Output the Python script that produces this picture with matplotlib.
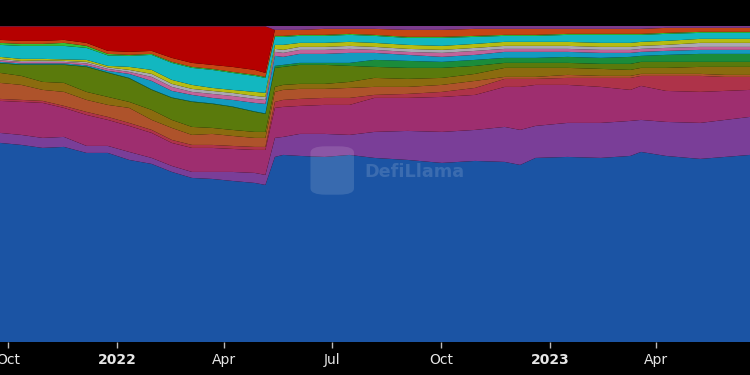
"""Stacked share chart (DefiLlama style), dark theme."""

import pandas as pd
import matplotlib
matplotlib.use("Agg")
import matplotlib.pyplot as plt
import matplotlib.dates as mdates
from matplotlib.patches import FancyBboxPatch

# dates of the samples
dates = ["2021-09-24", "2021-10-12", "2021-10-30", "2021-11-17", "2021-12-06",
         "2021-12-24", "2022-01-11", "2022-01-30", "2022-02-16", "2022-03-05",
         "2022-03-22", "2022-04-08", "2022-04-27", "2022-05-06", "2022-05-14",
         "2022-05-21", "2022-06-04", "2022-06-25", "2022-07-16", "2022-08-06",
         "2022-09-03", "2022-10-02", "2022-10-30", "2022-11-24", "2022-12-07",
         "2022-12-20", "2023-01-16", "2023-02-13", "2023-03-10", "2023-03-19",
         "2023-04-09", "2023-05-08", "2023-05-29", "2023-06-19"]

# relative shares (bottom to top), normalised to 100% below
blue = [199, 197, 194, 195, 189, 189, 182, 178, 170, 164, 163, 161, 159, 157,
        185, 187, 186, 185, 187, 184, 182, 179, 181, 180, 177, 184, 185, 184,
        186, 190, 186, 183, 185, 187]
purple = [10, 10, 10, 10, 7, 7, 8, 6, 6, 6, 7, 9, 10, 10,
          19, 18, 22, 23, 20, 26, 29, 31, 31, 35, 35, 32, 34, 35, 35, 32, 34, 36, 37, 38]
magenta = [32, 33, 35, 29, 31, 26, 26, 25, 23, 24, 24, 23, 23, 25,
           30, 30, 28, 29, 30, 34, 33, 35, 35, 40, 43, 41, 38, 36, 31, 34, 31, 31, 29, 27]
crimson = [2, 2, 2, 2, 3, 3, 3, 3, 3, 3, 3, 3, 3, 3,
           6, 7, 7, 7, 7, 3, 4, 5, 7, 8, 8, 6, 7, 9, 12, 10, 15, 16, 14, 13]
orange_brown = [16, 15, 11, 14, 12, 12, 15, 10, 12, 10, 11, 10, 9, 9,
                10, 10, 10, 9, 10, 8, 7, 7, 7, 2, 2, 2, 3, 2, 2, 2, 2, 2, 2, 2]
olive_brown = [10, 9, 8, 9, 8, 8, 6, 10, 8, 8, 6, 6, 6, 6,
               5, 5, 5, 5, 6, 9, 8, 7, 7, 9, 9, 9, 7, 7, 6, 6, 6, 7, 8, 8]
olive_green = [9.5, 11, 17, 18, 25, 24, 23.5, 20, 22, 25, 24, 23, 20, 18,
               19, 18, 19, 19, 16, 11, 11, 10, 8, 5, 5, 5, 5, 5, 6, 6, 6, 5, 5, 5]
green = [0.5, 0.5, 0.5, 0.5, 0.5, 0.5, 0.5, 0.5, 0.5, 0.5, 0.5, 0.5, 0.5, 0.5,
         2, 2, 2, 2, 3, 7, 7, 6, 6, 5, 5, 5, 6, 6, 7, 6, 7, 8, 8, 8]
blue_cyan = [1, 1, 1, 1, 1, 1.5, 4, 8.5, 6.5, 6.5, 5.5, 6.5, 8.5, 9.5,
             10, 8, 9, 9, 10, 7, 6, 5, 5, 6, 6, 6, 5, 5, 4, 4, 4, 4, 4, 4]
pink = [1.5, 1.5, 1.5, 1.5, 2, 2, 2, 4, 4, 3, 4, 4, 4, 4,
        4, 4, 4, 4, 4, 3, 3, 4, 4, 3, 3, 3, 3, 3, 3, 3, 3, 3, 3, 3]
gray = [1.5, 1, 1.5, 1, 1.5, 1.5, 2, 3, 3, 3, 3, 3, 3, 3,
        3, 3, 3, 3, 3, 3, 3, 3, 3, 3, 3, 3, 3, 3, 3, 3, 3, 4, 4, 4]
yellow = [2, 2, 1.5, 1.5, 2, 1.5, 3, 4, 4, 4, 3, 3, 4, 4,
          4, 5, 4, 4, 4, 4, 4, 4, 4, 4, 4, 4, 4, 4, 4, 4, 4, 4, 4, 4]
cyan = [12, 13, 13, 13.5, 12, 10.5, 11, 15, 17, 17, 18, 17, 16, 15,
        8, 8, 7, 7, 7, 7, 7, 8, 7, 6, 6, 6, 7, 8, 8, 7, 7, 6, 6, 6]
lime = [2, 2, 2, 3, 2, 1.5, 1, 1, 1, 1, 1, 1, 1, 1,
        1, 1, 1, 1, 1, 1, 1, 1, 1, 1, 1, 1, 1, 1, 1, 1, 1, 1, 1, 1]
orange_red = [3, 3, 3, 3, 3, 3, 3, 3, 4, 4, 4, 5, 5, 4,
              6, 6, 5, 6, 5, 6, 7, 7, 7, 6, 6, 6, 5, 5, 5, 5, 5, 4, 4, 4]
red = [13.5, 14.5, 14.5, 13.5, 16.5, 24.5, 25.5, 24.5, 31.5, 36.5, 38.5, 40.5, 43.5, 46.5,
       0, 0, 0, 0, 0, 0, 0, 0, 0, 0, 0, 0, 0, 0, 0, 0, 0, 0, 0, 0]
other = [0.5, 0.5, 0.5, 0.5, 0.5, 0.5, 0.5, 0.5, 0.5, 0.5, 0.5, 0.5, 0.5, 0.5,
         4, 4, 4, 3, 3, 3, 4, 4, 3, 3, 3, 3, 3, 3, 3, 3, 2, 2, 2, 2]

tick_dates = ["2021-10-01", "2022-01-01", "2022-04-01", "2022-07-01",
              "2022-10-01", "2023-01-01", "2023-04-01"]
tick_labels = ["Oct", "2022", "Apr", "Jul", "Oct", "2023", "Apr"]


def main():
    series = [blue, purple, magenta, crimson, orange_brown, olive_brown, olive_green,
              green, blue_cyan, pink, gray, yellow, cyan, lime, orange_red, red, other]
    colors = ["#1b54a4", "#7a3e98", "#9e2e6f", "#ae3349", "#ae532b", "#8b6b0f",
              "#5a7a0c", "#1b8c3a", "#139bc0", "#c0649a", "#a9a9b2", "#b6bc12",
              "#12b7c0", "#35c035", "#c54614", "#b50000", "#7c3c8c"]

    df = pd.DataFrame(dict(zip(range(len(series)), series)), index=pd.to_datetime(dates))
    pct = df.div(df.sum(axis=1), axis=0) * 100

    fig = plt.figure(figsize=(7.5, 3.75), dpi=100, facecolor="black")
    ax = fig.add_axes([0, 0.088, 1, 0.843], facecolor="black")
    ax.stackplot(pct.index, pct.T.values, colors=colors, linewidth=0)

    ax.set_xlim(pct.index[0], pct.index[-1])
    ax.set_ylim(0, 100)
    ax.set_yticks([])
    for s in ax.spines.values():
        s.set_visible(False)

    ax.set_xticks(pd.to_datetime(tick_dates))
    ax.set_xticklabels(tick_labels)
    ax.tick_params(axis="x", colors="#bbbbbb", length=4, width=1, pad=4,
                   labelsize=10, labelcolor="#e6e6e6")
    for lbl in ax.get_xticklabels():
        if lbl.get_text().isdigit():
            lbl.set_fontweight("bold")

    # watermark
    logo = FancyBboxPatch((0.418, 0.47), 0.05, 0.145, boxstyle="round,pad=0.004,rounding_size=0.02",
                          transform=ax.transAxes, facecolor="white", alpha=0.13,
                          edgecolor="none")
    ax.add_patch(logo)
    ax.text(0.553, 0.538, "DefiLlama", transform=ax.transAxes, ha="center", va="center",
            fontsize=12.7, fontweight="bold", color="white", alpha=0.14)

    fig.savefig("out.png", dpi=100, facecolor="black")


if __name__ == "__main__":
    main()
